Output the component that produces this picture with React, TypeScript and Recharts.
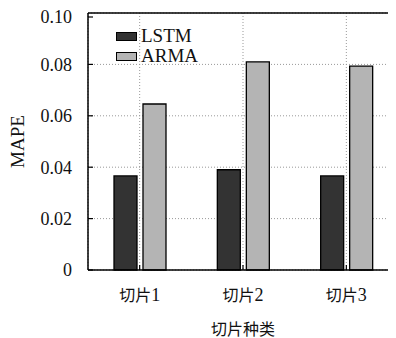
import { Bar, BarChart, CartesianGrid, Legend, ReferenceLine, XAxis, YAxis } from 'recharts'

const categories = ['切片1', '切片2', '切片3']
const seriesNames = ['LSTM', 'ARMA']
const lstmValues = [0.0366, 0.039, 0.0366]
const armaValues = [0.0646, 0.081, 0.0793]
const yTicks = [0, 0.02, 0.04, 0.06, 0.08, 0.1]

const FONT = '"Liberation Serif", "Noto Sans CJK SC", serif'

const data = categories.map((name, i) => ({
  name,
  LSTM: lstmValues[i],
  ARMA: armaValues[i],
}))

const Y_GAP = 16
const X_GAP = 17

function YTick({ x, y, payload }: any) {
  const v = payload.value
  return (
    <g>
      <line x1={x + Y_GAP} x2={x + Y_GAP + 5} y1={y} y2={y} stroke="#000" strokeWidth={1.2} />
      <text x={x} y={y} dy="0.35em" textAnchor="end" fontSize={18} fontFamily={FONT} fill="#111">
        {v === 0 ? '0' : v.toFixed(2)}
      </text>
    </g>
  )
}

function XTick({ x, y, payload }: any) {
  // digits in the serif face are set a bit larger, like the reference
  const m = String(payload.value).match(/^(\D*)(\d*)$/)
  const head = m ? m[1] : payload.value
  const tail = m ? m[2] : ''
  return (
    <g>
      <line x1={x} x2={x} y1={y - X_GAP} y2={y - X_GAP - 5} stroke="#000" strokeWidth={1.2} />
      <text x={x} y={y} dy="0.88em" textAnchor="middle" fontSize={16} fontFamily={FONT} fill="#111">
        {head}
        <tspan fontSize={18}>{tail}</tspan>
      </text>
    </g>
  )
}

function YLabel({ viewBox }: any) {
  const cx = viewBox.x + 9
  const cy = viewBox.y + viewBox.height / 2
  return (
    <text
      x={cx}
      y={cy}
      transform={`rotate(-90, ${cx}, ${cy})`}
      textAnchor="middle"
      dominantBaseline="central"
      fontSize={19}
      fontFamily={FONT}
      fill="#111"
    >
      MAPE
    </text>
  )
}

function LegendBox({ payload }: any) {
  const items = [...(payload || [])].sort(
    (a: any, b: any) => seriesNames.indexOf(a.value) - seriesNames.indexOf(b.value),
  )
  return (
    <div style={{ fontFamily: FONT, fontSize: 19, color: '#111' }}>
      {items.map((p: any) => (
        <div key={p.value} style={{ display: 'flex', alignItems: 'center', height: 20 }}>
          <span
            style={{
              display: 'inline-block',
              width: 19,
              height: 7,
              background: p.color,
              border: '1.3px solid #000',
              marginRight: 4,
            }}
          />
          <span>{p.value}</span>
        </div>
      ))}
    </div>
  )
}

export default function App() {
  return (
    <div style={{ width: 388, height: 330, overflow: 'hidden' }}>
      <BarChart
        width={392}
        height={330}
        data={data}
        margin={{ top: 5, right: 2, bottom: 0, left: 0 }}
        barSize={23}
        barGap={6}
      >
        <CartesianGrid stroke="#999" strokeDasharray="1 2" />
        <XAxis
          dataKey="name"
          height={68}
          tickSize={0}
          tickMargin={X_GAP}
          tick={<XTick />}
          axisLine={{ stroke: '#000', strokeWidth: 1.5 }}
          label={{
            value: '切片种类',
            position: 'insideBottom',
            offset: 3,
            fontSize: 16,
            fontFamily: FONT,
            fill: '#111',
          }}
        />
        <YAxis
          width={80}
          domain={[0, 0.1]}
          ticks={yTicks}
          tickSize={0}
          tickMargin={Y_GAP}
          tick={<YTick />}
          axisLine={{ stroke: '#000', strokeWidth: 1.5 }}
          label={YLabel}
        />
        <ReferenceLine y={0.1} stroke="#000" strokeWidth={1.5} />
        <Legend
          layout="vertical"
          align="center"
          verticalAlign="middle"
          wrapperStyle={{ top: 18, left: 108, width: 'auto' }}
          content={<LegendBox />}
        />
        <Bar dataKey="LSTM" fill="#333333" stroke="#000" strokeWidth={1.3} isAnimationActive={false} />
        <Bar dataKey="ARMA" fill="#b4b4b4" stroke="#000" strokeWidth={1.3} isAnimationActive={false} />
      </BarChart>
    </div>
  )
}
